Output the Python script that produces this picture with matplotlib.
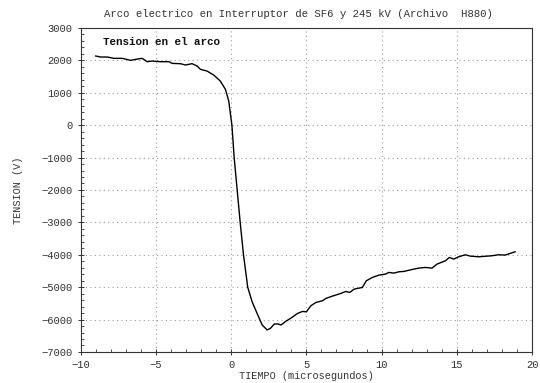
import matplotlib
matplotlib.use("Agg")
import matplotlib.pyplot as plt
from matplotlib.ticker import MultipleLocator

# Arc voltage trace (time in microseconds, voltage in volts)
tiempo = [-9.0, -8.67, -8.23, -7.79, -7.23, -6.68, -6.35, -5.91, -5.58, -5.25,
          -4.7, -4.14, -3.92, -3.37, -3.04, -2.6, -2.26, -2.04, -1.6, -1.16,
          -0.72, -0.38, -0.16, 0.05, 0.2, 0.4, 0.6, 0.82,
          1.1, 1.39, 1.72, 2.06, 2.39, 2.61, 2.87, 3.1, 3.32, 3.6,
          3.97, 4.41, 4.74, 5.0, 5.3, 5.63, 6.07, 6.29, 6.73, 7.28,
          7.62, 7.88, 8.17, 8.72, 8.98, 9.38, 9.82, 10.26, 10.48, 10.81,
          11.15, 11.48, 12.03, 12.47, 12.91, 13.35, 13.68, 14.24, 14.5, 14.79,
          15.12, 15.56, 15.89, 16.44, 17.32, 17.77, 18.21, 18.87]
tension = [2134, 2103, 2103, 2062, 2062, 2000, 2031, 2062, 1959, 1979,
           1959, 1959, 1907, 1897, 1856, 1897, 1825, 1722, 1670, 1547,
           1361, 1104, 743, 0, -1000, -2000, -3000, -4000,
           -5000, -5447, -5806, -6166, -6320, -6270, -6136, -6136, -6166, -6064,
           -5955, -5811, -5749, -5760, -5574, -5471, -5420, -5348, -5276, -5194,
           -5132, -5163, -5060, -5008, -4803, -4700, -4628, -4597, -4545, -4566,
           -4525, -4514, -4453, -4412, -4391, -4412, -4288, -4185, -4082, -4134,
           -4062, -4000, -4041, -4062, -4031, -4000, -4010, -3907]

titulo = "Arco electrico en Interruptor de SF6 y 245 kV (Archivo  H880)"
etiqueta_x = "TIEMPO (microsegundos)"
etiqueta_y = "TENSION (V)"
leyenda = "Tension en el arco"

mono = ["Liberation Mono", "DejaVu Sans Mono"]
plt.rcParams["font.family"] = mono

fig = plt.figure(figsize=(5.4, 3.83), dpi=100)
ax = fig.add_axes([0.1494, 0.081, 0.836, 0.846])

ax.plot(tiempo, tension, color="black", linewidth=1.0)

ax.set_xlim(-10, 20)
ax.set_ylim(-7000, 3000)
ax.xaxis.set_major_locator(MultipleLocator(5))
ax.xaxis.set_minor_locator(MultipleLocator(1))
ax.yaxis.set_major_locator(MultipleLocator(1000))
ax.yaxis.set_minor_locator(MultipleLocator(200))

ax.grid(True, which="major", linestyle=(0, (1, 3)), color="#9a9a9a", linewidth=0.8)
ax.tick_params(which="major", direction="inout", length=5, width=0.7,
               labelsize=7.6, labelcolor="#333333", colors="#333333")
ax.tick_params(which="minor", direction="in", length=2.5, width=0.6, colors="#333333")
for s in ax.spines.values():
    s.set_linewidth(0.8)
    s.set_color("#333333")

ax.set_title(titulo, fontsize=7.65, color="#333333", pad=8, x=0.482)
ax.set_xlabel(etiqueta_x, fontsize=7.4, color="#333333")
ax.set_ylabel(etiqueta_y, fontsize=7.4, color="#333333")
ax.xaxis.set_label_coords(0.5, -0.058)
ax.yaxis.set_label_coords(-0.128, 0.5)
ax.text(0.049, 0.957, leyenda, transform=ax.transAxes, fontsize=7.8,
        fontweight="bold", color="#111111", va="center", ha="left")

fig.savefig("out.png", dpi=100)
